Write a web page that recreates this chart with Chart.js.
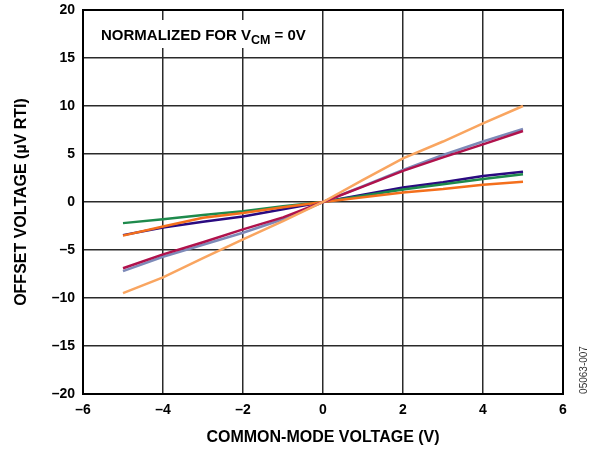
<!DOCTYPE html>
<html>
<head>
<meta charset="utf-8">
<script src="https://cdn.jsdelivr.net/npm/chart.js@4/dist/chart.umd.min.js"></script>
<style>
  html, body { margin: 0; padding: 0; background: #fff; }
  #wrap { width: 597px; height: 451px; position: relative; }
</style>
</head>
<body>
<div id="wrap"><canvas id="grafico"></canvas></div>
<script>
// common-mode voltage (V)
var vcm = [-5, -4, -3, -2, -1, 0, 1, 2, 3, 4, 5];

// offset voltage per unit (uV RTI), normalized at VCM = 0V
var offsetNaranjaClaro = [-9.5, -7.85, -5.85, -3.9, -2.0, 0, 2.3, 4.55, 6.3, 8.2, 10.0];
var offsetCarmesi = [-6.9, -5.45, -4.2, -2.85, -1.6, 0, 1.6, 3.25, 4.65, 6.0, 7.4];
var offsetPizarra = [-7.2, -5.7, -4.45, -3.2, -1.8, 0, 1.65, 3.35, 4.9, 6.3, 7.6];
var offsetNaranja = [-3.5, -2.55, -1.65, -1.15, -0.55, 0, 0.5, 1.0, 1.35, 1.8, 2.1];
var offsetVerde = [-2.2, -1.8, -1.35, -0.97, -0.45, 0, 0.65, 1.3, 1.85, 2.4, 2.9];
var offsetMarino = [-3.45, -2.65, -2.05, -1.5, -0.75, 0, 0.75, 1.5, 2.05, 2.7, 3.15];

var FUENTE = '"Liberation Sans", Arial, sans-serif';

var dataSet = function (label, valores, color) {
    return {
        label: label,
        data: vcm.map(function (x, i) { return { x: x, y: valores[i] }; }),
        borderColor: color,
        borderWidth: 2.5,
        pointRadius: 0,
        tension: 0,
        fill: false
    };
};

var menos = function (v) {
    return String(v).replace('-', '\u2013');
};

// white box with the normalization note, plus the outer frame and side code
var notas = {
    id: 'notas',
    beforeDatasetsDraw: function (chart) {
        var ctx = chart.ctx;
        ctx.save();
        ctx.fillStyle = '#fff';
        ctx.fillRect(85, 20, 236, 28);
        ctx.fillStyle = '#000';
        ctx.textBaseline = 'alphabetic';
        ctx.font = 'bold 15px ' + FUENTE;
        var x = 101;
        var y = 40;
        ctx.fillText('NORMALIZED FOR V', x, y);
        x += ctx.measureText('NORMALIZED FOR V').width;
        ctx.font = 'bold 12.5px ' + FUENTE;
        ctx.fillText('CM', x, y + 4);
        x += ctx.measureText('CM').width;
        ctx.font = 'bold 15px ' + FUENTE;
        ctx.fillText(' = 0V', x, y);
        ctx.restore();
    },
    afterDraw: function (chart) {
        var ctx = chart.ctx;
        var a = chart.chartArea;
        ctx.save();
        ctx.strokeStyle = '#000';
        ctx.lineWidth = 2;
        ctx.strokeRect(a.left, a.top, a.right - a.left, a.bottom - a.top);
        ctx.translate(584, 370);
        ctx.rotate(-Math.PI / 2);
        ctx.fillStyle = '#333';
        ctx.font = '10px ' + FUENTE;
        ctx.textAlign = 'center';
        ctx.textBaseline = 'middle';
        ctx.fillText('05063-007', 0, 0);
        ctx.restore();
    }
};

new Chart(document.getElementById('grafico'), {
    type: 'line',
    data: {
        datasets: [
            dataSet('A', offsetNaranjaClaro, '#F9A560'),
            dataSet('B', offsetCarmesi, '#B0124C'),
            dataSet('C', offsetPizarra, '#7D8AB8'),
            dataSet('D', offsetNaranja, '#F46F1C'),
            dataSet('E', offsetVerde, '#1E8A4C'),
            dataSet('F', offsetMarino, '#2A0A80')
        ]
    },
    options: {
        responsive: true,
        maintainAspectRatio: false,
        animation: false,
        layout: { autoPadding: false, padding: { left: 0, right: 34, top: 10, bottom: 0 } },
        plugins: {
            legend: { display: false },
            tooltip: { enabled: false }
        },
        scales: {
            x: {
                type: 'linear',
                min: -6,
                max: 6,
                ticks: {
                    stepSize: 2,
                    color: '#000',
                    padding: 8,
                    font: { family: FUENTE, size: 14, weight: 'bold' },
                    callback: menos
                },
                grid: { color: '#2a2a2a', lineWidth: 1.5, drawTicks: false },
                border: { color: '#000', width: 2 },
                title: {
                    display: true,
                    text: 'COMMON-MODE VOLTAGE (V)',
                    color: '#000',
                    font: { family: FUENTE, size: 16, weight: 'bold' },
                    padding: { top: 7 }
                },
                afterFit: function (scale) {
                    scale.height = 57;
                    scale.paddingLeft = 0;
                    scale.paddingRight = 0;
                }
            },
            y: {
                min: -20,
                max: 20,
                ticks: {
                    stepSize: 5,
                    color: '#000',
                    padding: 8,
                    font: { family: FUENTE, size: 14, weight: 'bold' },
                    callback: menos
                },
                grid: { color: '#2a2a2a', lineWidth: 1.5, drawTicks: false },
                border: { color: '#000', width: 2 },
                title: {
                    display: true,
                    text: 'OFFSET VOLTAGE (\u00b5V RTI)',
                    color: '#000',
                    font: { family: FUENTE, size: 16, weight: 'bold' },
                    padding: { top: 12, bottom: 2 }
                },
                afterFit: function (scale) {
                    scale.width = 83;
                    scale.paddingTop = 0;
                    scale.paddingBottom = 0;
                }
            }
        }
    },
    plugins: [notas]
});
</script>
</body>
</html>
